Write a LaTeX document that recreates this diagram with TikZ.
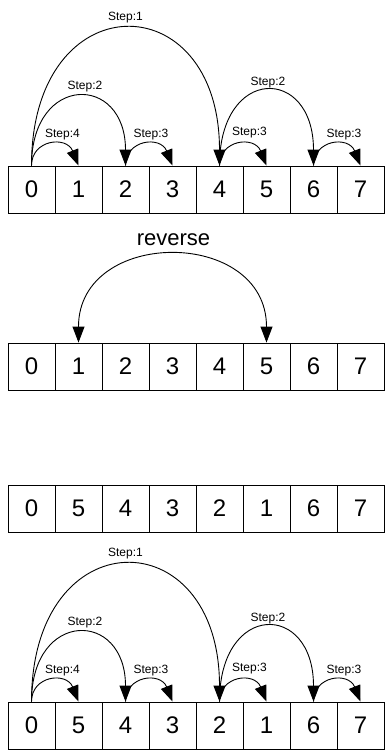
\documentclass[tikz,border=0pt]{standalone}
\usepackage{fontspec}
\setmainfont{Liberation Sans}
\usetikzlibrary{arrows.meta}
\begin{document}
\begin{tikzpicture}[x=1pt,y=-1pt,
  cell/.style={draw,line width=0.9pt,minimum width=47pt,minimum height=47pt,inner sep=0pt,font=\fontsize{24}{28}\selectfont},
  lbl/.style={anchor=base,inner sep=0pt,font=\fontsize{12}{14}\selectfont},
  jump/.style={line width=0.9pt,-{Triangle[length=16pt,width=12pt]}},
  twoway/.style={line width=0.9pt,{Triangle[length=16pt,width=12pt]}-{Triangle[length=16pt,width=12pt]}}]
\useasboundingbox (0,0) rectangle (385,750);
% rows of cells
\foreach \i in {0,...,7} {
  \node[cell] (a\i) at ({31.5+47*\i},189.5) {\i};
  \node[cell] (b\i) at ({31.5+47*\i},366.5) {\i};
}
\foreach \v [count=\k from 0] in {0,5,4,3,2,1,6,7} {
  \node[cell] (c\k) at ({31.5+47*\k},508.5) {\v};
  \node[cell] (d\k) at ({31.5+47*\k},725.5) {\v};
}
% step arcs on first and last rows
\foreach \r/\dy in {a/0,d/536} {
  \draw[jump] (\r0.north) .. controls +(0,-183) and +(0,-183) .. (\r4.north);
  \draw[jump] (\r0.north) .. controls +(0,-92) and +(0,-92) .. (\r2.north);
  \draw[jump] (\r4.north) .. controls +(0,-100) and +(0,-100) .. (\r6.north);
  \draw[jump] (\r0.north) .. controls +(0,-26) and +(-12,-30) .. (\r1.north);
  \draw[jump] (\r2.north) .. controls +(0,-26) and +(-12,-30) .. (\r3.north);
  \draw[jump] (\r4.north) .. controls +(0,-26) and +(-12,-30) .. (\r5.north);
  \draw[jump] (\r6.north) .. controls +(0,-26) and +(-12,-30) .. (\r7.north);
  \node[lbl] (\r s1) at (125.5,20.5+\dy) {Step:1};
  \node[lbl] (\r s2) at (85,89+\dy) {Step:2};
  \node[lbl] (\r s3) at (268,85+\dy) {Step:2};
  \node[lbl] (\r s4) at (62.5,137+\dy) {Step:4};
  \node[lbl] (\r s5) at (151,137+\dy) {Step:3};
  \node[lbl] (\r s6) at (249.5,135.5+\dy) {Step:3};
  \node[lbl] (\r s7) at (344,137+\dy) {Step:3};
}
% reverse
\node[anchor=base,inner sep=0pt,font=\fontsize{22}{26}\selectfont] (rev) at (173.5,245) {reverse};
\draw[twoway] (b1.north) .. controls +(0,-115) and +(0,-115) .. (b5.north);
\end{tikzpicture}
\end{document}
